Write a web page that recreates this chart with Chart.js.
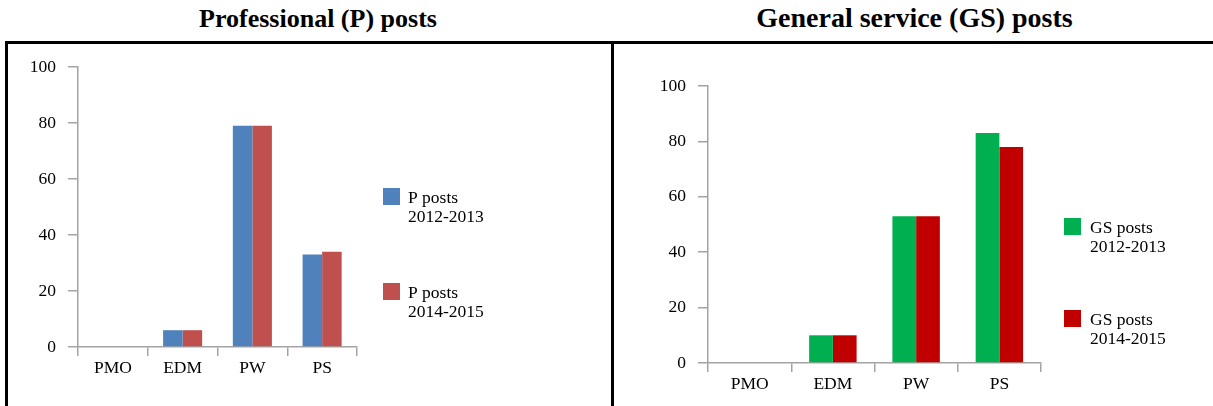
<!DOCTYPE html>
<html>
<head>
<meta charset="utf-8">
<script src="https://cdn.jsdelivr.net/npm/chart.js@4.4.1/dist/chart.umd.min.js"></script>
<style>
  html, body { margin: 0; padding: 0; background: #fff; }
  body { width: 1213px; height: 406px; position: relative; overflow: hidden; font-family: 'Liberation Serif', 'DejaVu Serif', serif; }
  .title { position: absolute; font-weight: bold; color: #000; white-space: nowrap; text-align: center; }
  .frame { position: absolute; background: #000; }
  canvas { position: absolute; }
</style>
</head>
<body>
<div class="title" style="left:8px;top:4px;width:620px;font-size:26px;">Professional (P) posts</div>
<div class="title" style="left:614px;top:2px;width:601px;font-size:28px;">General service (GS) posts</div>
<div class="frame" style="left:5px;top:41px;width:1208px;height:3px;"></div>
<div class="frame" style="left:5px;top:41px;width:3px;height:365px;"></div>
<div class="frame" style="left:611px;top:41px;width:3px;height:365px;"></div>
<canvas id="chartP" style="left:0;top:44px;"></canvas>
<canvas id="chartGS" style="left:614px;top:44px;"></canvas>
<script>
// Office categories and post counts per biennium
const categories = ['PMO', 'EDM', 'PW', 'PS'];
const yTicks = [0, 20, 40, 60, 80, 100];

const pLabels = [['P posts', '2012-2013'], ['P posts', '2014-2015']];
const pPosts2012 = [0, 6, 79, 33];
const pPosts2014 = [0, 6, 79, 34];

const gsLabels = [['GS posts', '2012-2013'], ['GS posts', '2014-2015']];
const gsPosts2012 = [0, 10, 53, 83];
const gsPosts2014 = [0, 10, 53, 78];

const AXIS_GREY = '#a3a3a3';
const FONT = "'Liberation Serif', 'Times New Roman', serif";

// Two-line legend drawn to the right of the plot area
const sideLegend = {
  id: 'sideLegend',
  afterDraw(chart, args, opts) {
    const { ctx, chartArea } = chart;
    ctx.save();
    ctx.font = opts.fontSize + 'px ' + FONT;
    ctx.textBaseline = 'middle';
    ctx.textAlign = 'left';
    chart.data.datasets.forEach((ds, i) => {
      const top = opts.top + i * opts.spacing;
      const bx = chartArea.right + opts.boxOffset;
      ctx.fillStyle = ds.backgroundColor;
      ctx.fillRect(bx, top, opts.box, opts.box);
      ctx.fillStyle = '#000';
      const lines = Array.isArray(ds.label) ? ds.label : [ds.label];
      lines.forEach((line, j) => {
        ctx.fillText(line, chartArea.right + opts.textOffset, top + opts.box / 2 + 2 + j * opts.lineHeight);
      });
    });
    ctx.restore();
  }
};

function makeChart(id, w, h, labels, s1, s2, colors, pad, catPct, fontSize, legendOpts) {
  const canvas = document.getElementById(id);
  canvas.width = w;
  canvas.height = h;
  return new Chart(canvas, {
    type: 'bar',
    data: {
      labels: categories,
      datasets: [
        { label: labels[0], data: s1, backgroundColor: colors[0] },
        { label: labels[1], data: s2, backgroundColor: colors[1] }
      ]
    },
    plugins: [sideLegend],
    options: {
      responsive: false,
      animation: false,
      devicePixelRatio: 1,
      layout: { padding: pad },
      datasets: { bar: { categoryPercentage: catPct, barPercentage: 1 } },
      plugins: {
        legend: { display: false },
        tooltip: { enabled: false },
        sideLegend: legendOpts
      },
      scales: {
        x: {
          grid: { display: true, drawOnChartArea: false, drawTicks: true, tickLength: 9, color: AXIS_GREY, lineWidth: 1.5, offset: true },
          border: { display: true, color: AXIS_GREY, width: 1.5 },
          ticks: { color: '#000', font: { family: FONT, size: fontSize }, padding: 2, maxRotation: 0 },
          afterFit(scale) { scale.height = 40; }
        },
        y: {
          min: 0, max: 100,
          afterBuildTicks(scale) { scale.ticks = yTicks.map(v => ({ value: v })); },
          grid: { display: true, drawOnChartArea: false, drawTicks: true, tickLength: 10, color: AXIS_GREY, lineWidth: 1.5 },
          border: { display: true, color: AXIS_GREY, width: 1.5 },
          ticks: { color: '#000', font: { family: FONT, size: fontSize }, padding: 12 },
          afterFit(scale) { scale.width = 50; }
        }
      }
    }
  });
}

makeChart('chartP', 610, 362, pLabels, pPosts2012, pPosts2014,
  ['#4f81bd', '#c0504d'],
  { left: 28, right: 253, top: 23, bottom: 19 }, 0.56, 17.5,
  { top: 144, spacing: 95, box: 17, boxOffset: 26, textOffset: 51, lineHeight: 19, fontSize: 17.5 });

makeChart('chartGS', 599, 362, gsLabels, gsPosts2012, gsPosts2014,
  ['#00b050', '#c00000'],
  { left: 44, right: 172, top: 42, bottom: 3 }, 0.57, 17.5,
  { top: 174, spacing: 92, box: 17, boxOffset: 23, textOffset: 49, lineHeight: 19, fontSize: 17.5 });
</script>
</body>
</html>
